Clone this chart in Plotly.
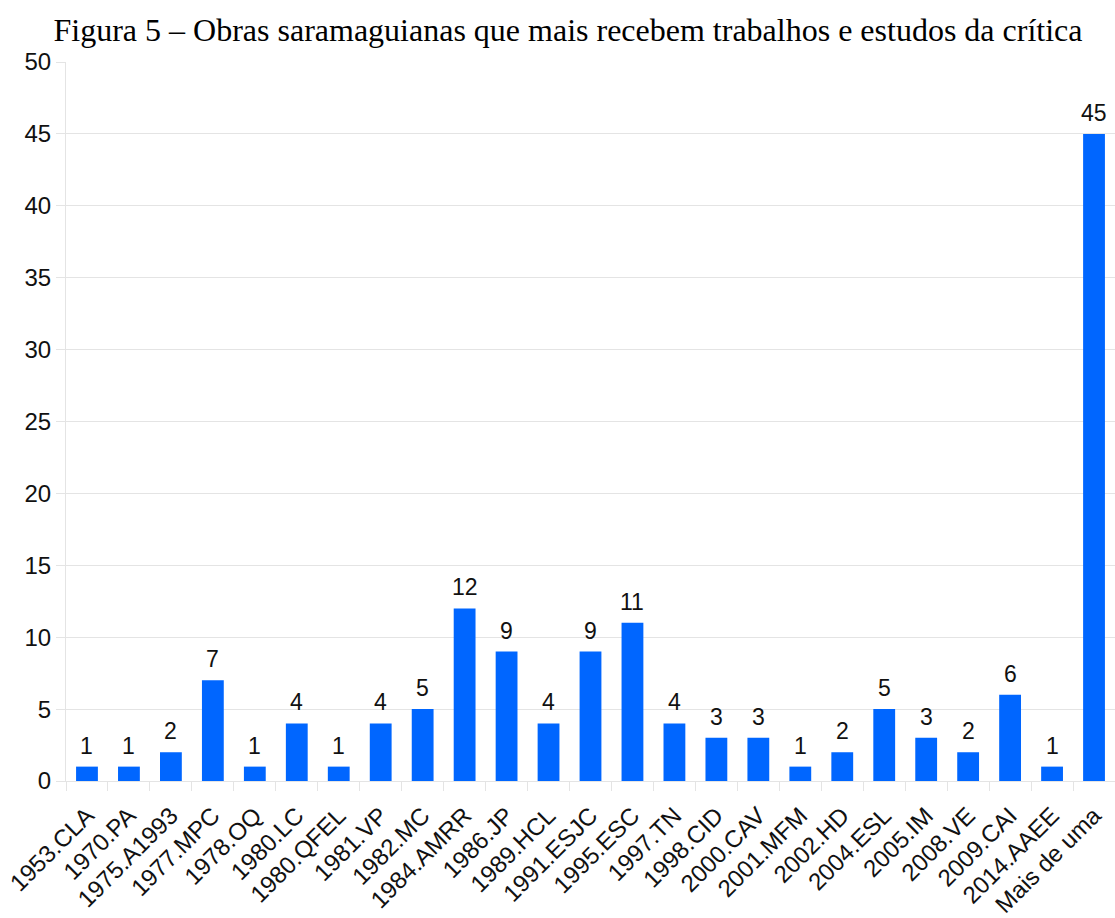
import plotly.graph_objects as go

obras = ["1953.CLA", "1970.PA", "1975.A1993", "1977.MPC", "1978.OQ", "1980.LC",
         "1980.QFEL", "1981.VP", "1982.MC", "1984.AMRR", "1986.JP", "1989.HCL",
         "1991.ESJC", "1995.ESC", "1997.TN", "1998.CID", "2000.CAV", "2001.MFM",
         "2002.HD", "2004.ESL", "2005.IM", "2008.VE", "2009.CAI", "2014.AAEE",
         "Mais de uma"]
estudos = [1, 1, 2, 7, 1, 4, 1, 4, 5, 12, 9, 4, 9, 11, 4, 3, 3, 1, 2, 5, 3, 2, 6, 1, 45]
y_ticks = [0, 5, 10, 15, 20, 25, 30, 35, 40, 45, 50]

titulo = "Figura 5 – Obras saramaguianas que mais recebem trabalhos e estudos da crítica"

grid = "#e4e4e4"
azul = "#0066ff"
texto = "#111111"

fig = go.Figure(go.Bar(
    x=obras,
    y=estudos,
    marker=dict(color=azul, line=dict(width=0)),
))

# value labels above each bar
for obra, valor in zip(obras, estudos):
    fig.add_annotation(
        x=obra, y=valor, text=str(valor),
        xref="x", yref="y",
        showarrow=False,
        yanchor="bottom",
        yshift=6,
        font=dict(family="Liberation Sans", size=23, color=texto),
    )

fig.update_layout(
    width=1115,
    height=918,
    margin=dict(l=66, r=0, t=62, b=135),
    paper_bgcolor="white",
    plot_bgcolor="white",
    bargap=0.48,
    showlegend=False,
    title=dict(
        text=titulo,
        font=dict(family="Liberation Serif", size=32, color="black"),
        x=568 / 1115, xanchor="center",
        y=1 - 30 / 918, yanchor="middle",
    ),
    font=dict(family="Liberation Sans", size=24, color=texto),
)

fig.update_xaxes(
    type="category",
    tickangle=-45,
    tickson="boundaries",
    ticks="outside",
    ticklen=9,
    tickcolor=grid,
    ticklabelstandoff=10,
    showgrid=False,
    showline=True,
    linecolor=grid,
    linewidth=1,
    tickfont=dict(family="Liberation Sans", size=24, color=texto),
)

fig.update_yaxes(
    range=[0, 50],
    tickvals=y_ticks,
    ticks="outside",
    ticklen=9,
    tickcolor=grid,
    showgrid=True,
    gridcolor=grid,
    gridwidth=1,
    showline=True,
    linecolor=grid,
    zeroline=False,
    tickfont=dict(family="Liberation Sans", size=24, color=texto),
)

fig.write_html("out.html")
